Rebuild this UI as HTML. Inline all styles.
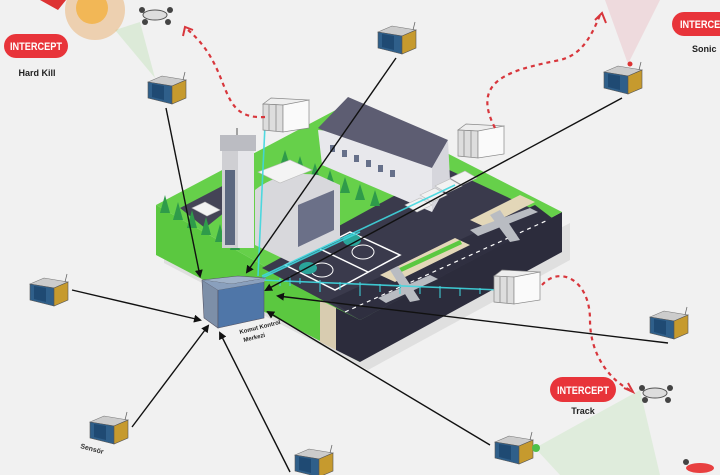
<!DOCTYPE html>
<html><head><meta charset="utf-8"><style>
html,body{margin:0;padding:0;background:#f1f1f1;}
svg{display:block}
text{font-family:"Liberation Sans",sans-serif;}
</style></head><body>
<svg width="720" height="475" viewBox="0 0 720 475" xmlns="http://www.w3.org/2000/svg">
<defs>
<marker id="ar" markerWidth="8" markerHeight="8" refX="6" refY="4" orient="auto" markerUnits="userSpaceOnUse"><path d="M0,0 L8,4 L0,8 z" fill="#111"/></marker>
<g id="sen">
 <polygon points="-18,-8 -4,-14 20,-10 6,-4" fill="#ccc" stroke="#777" stroke-width="0.6"/>
 <polygon points="-18,-8 6,-4 6,14 -18,8" fill="#2f5f8a" stroke="#555" stroke-width="0.6"/>
 <polygon points="-14,-6 -2,-4 -2,10 -14,7" fill="#1f4a73"/>
 <polygon points="6,-4 20,-10 20,8 6,14" fill="#c69a2e" stroke="#555" stroke-width="0.6"/>
 <line x1="17" y1="-10" x2="19" y2="-18" stroke="#666" stroke-width="0.8"/>
</g>
<g id="cont">
 <polygon points="-20,-14 -12,-20 26,-18 18,-12" fill="#eee" stroke="#888" stroke-width="0.7"/>
 <polygon points="-20,-14 0,-13 0,14 -20,12" fill="#ddd" stroke="#888" stroke-width="0.7"/>
 <line x1="-14" y1="-13" x2="-14" y2="13" stroke="#999"/><line x1="-7" y1="-13" x2="-7" y2="13" stroke="#999"/>
 <polygon points="0,-13 26,-18 26,10 0,14" fill="#fafafa" stroke="#888" stroke-width="0.7"/>
</g>
</defs>

<!-- platform -->
<polygon points="156,205 156,255 360,362 562,252 562,215 360,320" fill="#d4d4d4" opacity="0.6" transform="translate(8,8)"/>
<polygon points="156,205 360,320 360,362 156,255" fill="#5bc840"/>
<polygon points="360,320 562,212 562,252 360,362" fill="#2c2c3c"/>
<polygon points="320,300 336,308 336,350 320,342" fill="#d8ccb0"/>
<polygon points="336,308 360,320 360,362 336,350" fill="#2c2c3c"/>
<polygon points="156,205 349,103 562,212 360,320" fill="#66d04a"/>
<!-- asphalt -->
<polygon points="262,268 445,168 552,218 360,320" fill="#3a3a4c"/>
<polygon points="330,300 535,205 552,218 360,320" fill="#2f2f40"/>
<polygon points="180,208 230,182 250,192 205,228" fill="#444456"/>
<!-- runway stripes -->
<line x1="345" y1="312" x2="548" y2="220" stroke="#fff" stroke-width="1.2" stroke-dasharray="4 4"/>
<polygon points="380,275 455,238 470,245 395,282" fill="#e3d7b8"/>
<polygon points="395,270 460,240 462,244 397,274" fill="#5bc840"/>
<polygon points="470,220 520,195 535,202 485,227" fill="#e3d7b8"/>
<!-- helipads -->
<polygon points="285,265 350,232 400,255 335,290" fill="none" stroke="#fff" stroke-width="1.5"/>
<line x1="318" y1="248" x2="368" y2="272" stroke="#fff" stroke-width="1.5"/>
<ellipse cx="322" cy="270" rx="11" ry="7" fill="none" stroke="#fff"/>
<ellipse cx="363" cy="252" rx="11" ry="7" fill="none" stroke="#fff"/>
<ellipse cx="308" cy="268" rx="9" ry="6" fill="#2aa59a"/>
<ellipse cx="352" cy="240" rx="9" ry="6" fill="#2aa59a"/>
<!-- hangar -->
<polygon points="318,130 322,165 432,212 448,172 448,140" fill="#e8e8ec"/>
<polygon points="318,128 348,97 448,140 432,168 322,130" fill="#5d5d72"/>
<polygon points="432,168 448,140 450,180 432,212" fill="#d6d6dc"/>
<g fill="#66708a"><rect x="330" y="145" width="5" height="7"/><rect x="342" y="150" width="5" height="7"/><rect x="354" y="155" width="5" height="7"/><rect x="366" y="160" width="5" height="7"/><rect x="378" y="165" width="5" height="7"/><rect x="390" y="170" width="5" height="7"/></g>
<!-- trees -->
<g fill="#2f9b4a">
<polygon points="285,150 280,166 290,166"/><polygon points="300,156 295,172 305,172"/><polygon points="315,163 310,179 320,179"/><polygon points="330,170 325,186 335,186"/><polygon points="345,177 340,193 350,193"/><polygon points="360,184 355,200 365,200"/><polygon points="375,190 370,206 380,206"/>
<polygon points="165,195 160,213 170,213"/><polygon points="178,202 173,220 183,220"/><polygon points="192,210 187,228 197,228"/><polygon points="206,217 201,235 211,235"/><polygon points="220,224 215,242 225,242"/><polygon points="235,232 230,250 240,250"/>
</g>
<!-- terminal -->
<path d="M255,190 Q280,170 318,175 L340,185 L340,240 L290,262 L255,245 z" fill="#d8d8dc"/>
<polygon points="298,205 334,190 334,230 298,247" fill="#6b7088"/>
<polygon points="258,172 290,160 312,170 280,183" fill="#f4f4f4" stroke="#bbb" stroke-width="0.6"/>
<!-- tower -->
<rect x="222" y="148" width="32" height="100" fill="#cfcfd3"/>
<rect x="238" y="148" width="16" height="100" fill="#e6e6ea"/>
<rect x="225" y="170" width="10" height="75" fill="#5c6880"/>
<rect x="220" y="135" width="36" height="16" fill="#bbbcc2"/>
<line x1="237" y1="128" x2="237" y2="135" stroke="#888" stroke-width="1.5"/>
<!-- vans -->
<g fill="#f2f2f2" stroke="#bbb" stroke-width="0.6">
<polygon points="405,205 420,198 432,205 417,212"/><polygon points="420,195 435,188 447,195 432,202"/><polygon points="435,186 450,179 462,186 447,193"/><polygon points="450,178 465,171 477,178 462,185"/>
<polygon points="192,208 205,202 220,210 207,216"/>
</g>
<!-- planes -->
<g fill="#b9bcc2">
<polygon points="470,230 530,208 538,212 478,236"/><polygon points="490,215 500,210 520,240 510,242"/>
<polygon points="378,298 430,275 438,279 386,303"/><polygon points="390,270 398,266 420,300 410,302"/>
</g>
<!-- cyan signals -->
<g stroke="#3fd7df" stroke-width="1.6" fill="none" opacity="0.9">
<path d="M260,280 L500,290"/><path d="M258,276 L265,125"/><path d="M262,276 L455,185"/><path d="M262,278 L360,232"/>
</g>
<g stroke="#3fd7df" stroke-width="1">
<path d="M280,278 v8 M290,276 v10 M300,278 v6 M320,280 v12 M340,282 v8 M360,282 v14 M380,284 v8 M400,284 v10 M420,286 v8 M440,286 v12 M460,288 v8 M480,288 v6"/>
</g>
<!-- containers -->
<use href="#cont" x="283" y="118"/>
<use href="#cont" x="478" y="144"/>
<use href="#cont" x="514" y="290"/>
<!-- central box -->
<polygon points="202,280 238,276 266,278 232,284" fill="#9fb2c9" stroke="#556" stroke-width="0.6"/>
<polygon points="202,280 218,290 218,328 204,318" fill="#7d8fa8" stroke="#556" stroke-width="0.6"/>
<polygon points="218,290 264,282 264,318 218,328" fill="#4f76a8" stroke="#556" stroke-width="0.6"/>
<polygon points="202,280 232,284 266,278 264,282 218,290" fill="#8aa0bd"/>
<text x="240" y="334" font-size="6" transform="rotate(-14 240 334)" fill="#222" font-weight="bold">Komut Kontrol</text>
<text x="244" y="342" font-size="6" transform="rotate(-14 244 342)" fill="#222" font-weight="bold">Merkezi</text>
<!-- sensors -->
<use href="#sen" x="166" y="90"/>
<use href="#sen" x="396" y="40"/>
<use href="#sen" x="622" y="80"/>
<use href="#sen" x="48" y="292"/>
<use href="#sen" x="668" y="325"/>
<use href="#sen" x="108" y="430"/>
<use href="#sen" x="313" y="463"/>
<use href="#sen" x="513" y="450"/>
<text x="80" y="448" font-size="7" fill="#333" font-weight="bold" transform="rotate(15 80 448)">Sensör</text>
<!-- connectors -->
<g stroke="#111" stroke-width="1.4" fill="none" marker-end="url(#ar)">
<line x1="166" y1="108" x2="200" y2="276"/>
<line x1="396" y1="58" x2="247" y2="272"/>
<line x1="622" y1="98" x2="266" y2="290"/>
<line x1="72" y1="290" x2="200" y2="320"/>
<line x1="668" y1="343" x2="278" y2="296"/>
<line x1="132" y1="427" x2="208" y2="326"/>
<line x1="290" y1="472" x2="220" y2="333"/>
<line x1="490" y1="445" x2="268" y2="312"/>
</g>
<!-- signal cones -->
<polygon points="155,78 115,30 140,22" fill="#8ad47a" opacity="0.2"/>
<polygon points="628,64 605,0 660,0" fill="#e05a6a" opacity="0.15"/>
<circle cx="630" cy="64" r="2.5" fill="#d33"/>
<polygon points="535,448 640,390 660,475 560,475" fill="#8ed880" opacity="0.18"/>
<circle cx="536" cy="448" r="4" fill="#4fc04a"/>
<!-- explosion -->
<circle cx="95" cy="10" r="30" fill="#e8a050" opacity="0.4"/>
<circle cx="92" cy="8" r="16" fill="#f2b040" opacity="0.8"/>
<path d="M40,0 h26 l-8,10 z" fill="#d33"/>
<!-- drones -->
<g fill="#444"><ellipse cx="155" cy="15" rx="12" ry="5" fill="#ddd" stroke="#555"/><circle cx="142" cy="10" r="3"/><circle cx="170" cy="10" r="3"/><circle cx="145" cy="22" r="3"/><circle cx="168" cy="22" r="3"/></g>
<g fill="#444"><ellipse cx="655" cy="393" rx="12" ry="5" fill="#ddd" stroke="#555"/><circle cx="642" cy="388" r="3"/><circle cx="670" cy="388" r="3"/><circle cx="645" cy="400" r="3"/><circle cx="668" cy="400" r="3"/></g>
<g><ellipse cx="700" cy="468" rx="14" ry="5" fill="#e84040"/><circle cx="686" cy="462" r="3" fill="#444"/></g>
<!-- red dashed arcs -->
<g stroke="#d8363c" stroke-width="2.2" fill="none" stroke-dasharray="4 4">
<path d="M265,117 C215,120 235,70 188,30"/>
<path d="M495,128 C470,80 510,70 560,60 C580,55 590,40 600,15"/>
<path d="M542,285 C560,265 590,280 590,320 C590,355 610,380 630,390"/>
</g>
<path d="M183,36 L185,27 L193,30" stroke="#d8363c" stroke-width="2" fill="none"/>
<path d="M595,20 L602,13 L606,23" stroke="#d8363c" stroke-width="2" fill="none"/>
<path d="M624,388 L633,392 L628,383" stroke="#d8363c" stroke-width="2" fill="none"/>
<!-- intercept badges -->
<rect x="4" y="34" width="64" height="24" rx="12" fill="#e8343a"/>
<text x="36" y="50" font-size="11" font-weight="bold" fill="#fff" text-anchor="middle" textLength="52" lengthAdjust="spacingAndGlyphs">INTERCEPT</text>
<text x="37" y="76" font-size="9" font-weight="bold" fill="#222" text-anchor="middle">Hard Kill</text>
<rect x="672" y="12" width="64" height="24" rx="12" fill="#e8343a"/>
<text x="680" y="28" font-size="11" font-weight="bold" fill="#fff" textLength="52" lengthAdjust="spacingAndGlyphs">INTERCEPT</text>
<text x="692" y="52" font-size="9" font-weight="bold" fill="#222">Sonic</text>
<rect x="550" y="377" width="66" height="25" rx="12.5" fill="#e8343a"/>
<text x="583" y="394" font-size="11" font-weight="bold" fill="#fff" text-anchor="middle" textLength="52" lengthAdjust="spacingAndGlyphs">INTERCEPT</text>
<text x="583" y="414" font-size="9" font-weight="bold" fill="#222" text-anchor="middle">Track</text>
</svg>
</body></html>
